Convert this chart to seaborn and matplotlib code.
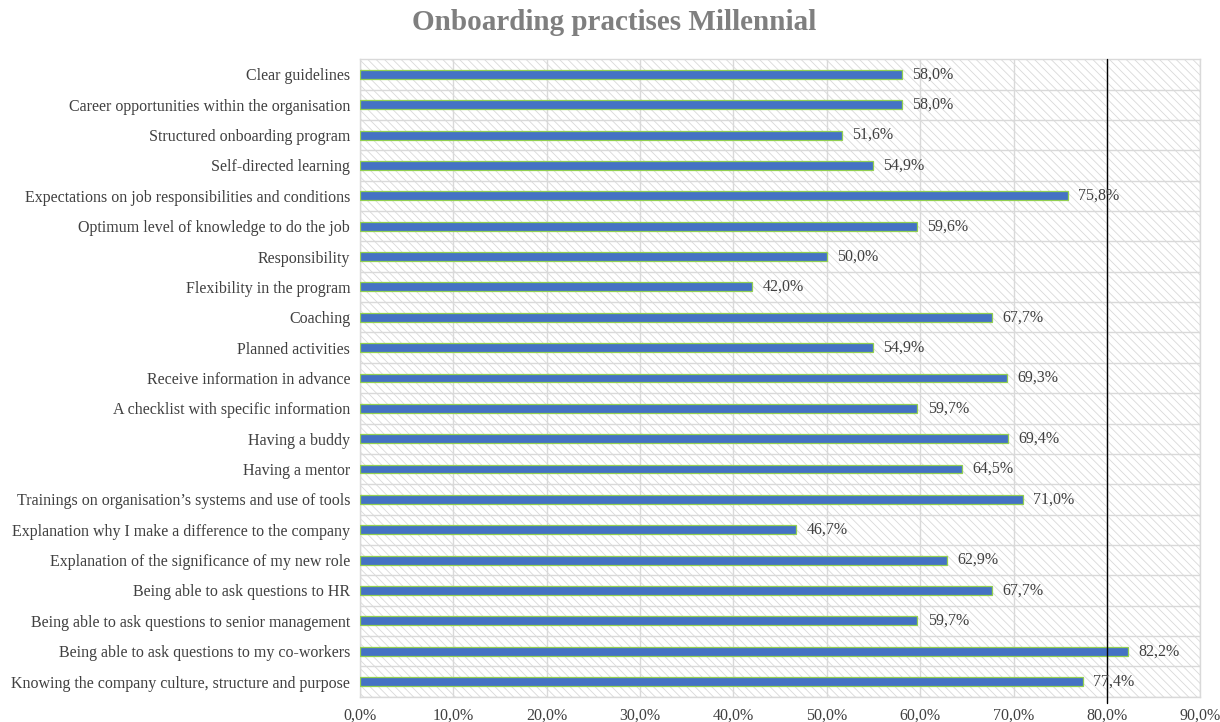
import matplotlib
matplotlib.use("Agg")
import matplotlib.pyplot as plt
import seaborn as sns
import pandas as pd
import numpy as np
from matplotlib.patches import Rectangle

categories = [
    "Clear guidelines",
    "Career opportunities within the organisation",
    "Structured onboarding program",
    "Self-directed learning",
    "Expectations on job responsibilities and conditions",
    "Optimum level of knowledge to do the job",
    "Responsibility",
    "Flexibility in the program",
    "Coaching",
    "Planned activities",
    "Receive information in advance",
    "A checklist with specific information",
    "Having a buddy",
    "Having a mentor",
    "Trainings on organisation\u2019s systems and use of tools",
    "Explanation why I make a difference to the company",
    "Explanation of the significance of my new role",
    "Being able to ask questions to HR",
    "Being able to ask questions to senior management",
    "Being able to ask questions to my co-workers",
    "Knowing the company culture, structure and purpose",
]
values = [58.0, 58.0, 51.6, 54.9, 75.8, 59.6, 50.0, 42.0, 67.7, 54.9, 69.3,
          59.7, 69.4, 64.5, 71.0, 46.7, 62.9, 67.7, 59.7, 82.2, 77.4]
xticks = [0, 10, 20, 30, 40, 50, 60, 70, 80, 90]
xticklabels = ["0,0%", "10,0%", "20,0%", "30,0%", "40,0%", "50,0%", "60,0%",
               "70,0%", "80,0%", "90,0%"]
ref_line = 80

sns.set_theme(style="white")
plt.rcParams['font.family'] = ['Liberation Serif', 'DejaVu Serif']
plt.rcParams['hatch.color'] = '#d9d9d9'
plt.rcParams['hatch.linewidth'] = 0.6

df = pd.DataFrame({"cat": categories, "val": values})

fig = plt.figure(figsize=(12.2, 7.22), dpi=100)
ax = fig.add_axes([0.295, 0.035, 0.689, 0.883])

# hatched background
ax.add_patch(Rectangle((0, 0), 1, 1, transform=ax.transAxes, facecolor='white',
                       edgecolor='#d9d9d9', hatch='\\\\\\\\', linewidth=0, zorder=0))

sns.barplot(data=df, x="val", y="cat", orient="h", ax=ax, width=0.29,
            color="#4472C4", edgecolor="#92D050", linewidth=0.9, saturation=1,
            zorder=3)

ax.set_xlim(0, 90)
ax.set_ylim(len(categories) - 0.5, -0.5)
ax.set_xticks(xticks)
ax.set_xticklabels(xticklabels)
ax.set_yticks(np.arange(len(categories)) + 0.5, minor=True)
ax.grid(True, axis='x', which='major', color='#d9d9d9', linewidth=1, zorder=1)
ax.grid(True, axis='y', which='minor', color='#d9d9d9', linewidth=1, zorder=1)
ax.grid(False, axis='y', which='major')
ax.set_axisbelow(True)
ax.tick_params(axis='both', which='both', length=0, labelsize=11.5, colors='#404040')
ax.tick_params(axis='x', pad=8)
ax.tick_params(axis='y', pad=7)
ax.set_xlabel("")
ax.set_ylabel("")
for s in ax.spines.values():
    s.set_color('#d9d9d9')
    s.set_linewidth(1)

ax.axvline(ref_line, color='black', linewidth=1, zorder=4, ymin=-0.01, clip_on=False)

for i, v in enumerate(values):
    ax.text(v + 1.1, i, f"{v:.1f}%".replace('.', ','), va='center', ha='left',
            fontsize=11.5, color='#404040', zorder=5)

fig.text(0.503, 0.9695, "Onboarding practises Millennial", ha='center', va='center',
         fontsize=21, fontweight='bold', color='#7f7f7f')

fig.savefig("out.png", dpi=100)
